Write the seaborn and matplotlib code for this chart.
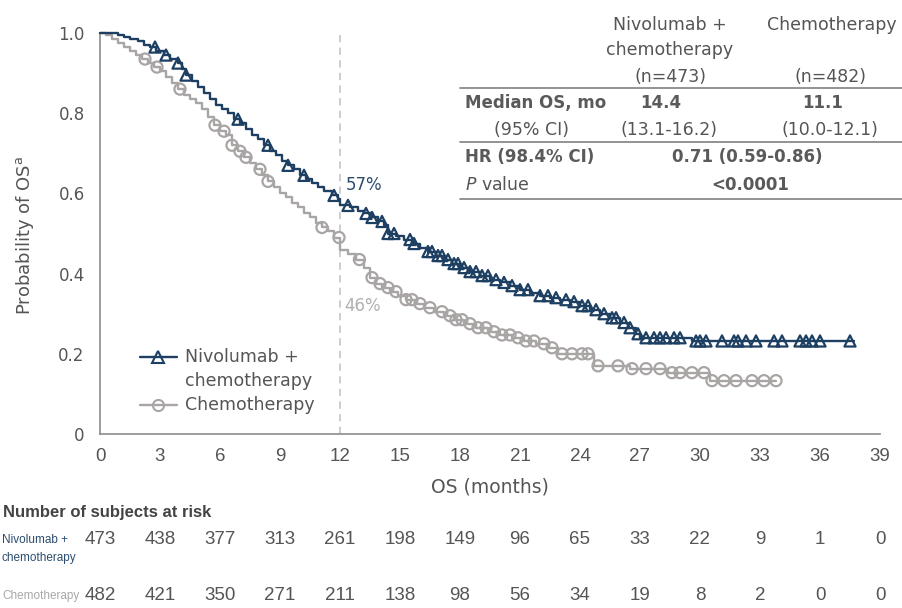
import numpy as np
import pandas as pd
import matplotlib
matplotlib.use("Agg")
import matplotlib.pyplot as plt
import matplotlib.transforms as mtransforms
import seaborn as sns

# ---- Kaplan-Meier estimates (time in months, survival probability after each step)
nivo_time = [0, 0.9, 1.2, 1.5, 1.9, 2.2, 2.5, 2.8, 3.2, 3.5, 3.9, 4.1, 4.3, 4.6, 4.9,
             5.2, 5.5, 5.8, 6.1, 6.4, 6.7, 7.0, 7.3, 7.6, 7.9, 8.2, 8.5, 8.8, 9.1, 9.4,
             9.7, 10.0, 10.3, 10.6, 10.9, 11.2, 11.6, 11.9, 12.0, 12.5, 12.9, 13.2, 13.6,
             13.9, 14.2, 14.4, 14.8, 15.2, 15.6, 16.0, 16.4, 16.8, 17.2, 17.6, 18.0, 18.5,
             19.0, 19.5, 20.0, 20.5, 21.0, 21.5, 22.0, 22.5, 23.0, 23.5, 24.0, 24.5, 25.0,
             25.5, 26.0, 26.4, 26.8, 27.0, 29.6, 37.7]
nivo_surv = [1.0, 0.995, 0.99, 0.985, 0.98, 0.97, 0.965, 0.955, 0.945, 0.935, 0.925, 0.91,
             0.895, 0.88, 0.865, 0.85, 0.835, 0.82, 0.81, 0.80, 0.785, 0.775, 0.76, 0.745,
             0.735, 0.72, 0.705, 0.695, 0.68, 0.67, 0.66, 0.645, 0.635, 0.625, 0.615, 0.605,
             0.595, 0.585, 0.57, 0.565, 0.555, 0.55, 0.54, 0.53, 0.52, 0.50, 0.495, 0.485,
             0.475, 0.465, 0.455, 0.445, 0.435, 0.425, 0.415, 0.405, 0.395, 0.385, 0.378,
             0.37, 0.36, 0.352, 0.345, 0.34, 0.335, 0.33, 0.32, 0.31, 0.30, 0.29, 0.278,
             0.265, 0.25, 0.24, 0.232, 0.232]
nivo_censored = [2.75, 3.3, 3.9, 4.3, 6.9, 8.4, 9.4, 10.2, 11.7, 12.4, 13.3, 13.6, 14.1, 14.4,
                 14.7, 15.5, 15.7, 16.4, 16.6, 16.9, 17.1, 17.4, 17.7, 17.9, 18.2, 18.5, 18.8,
                 19.1, 19.4, 19.8, 20.2, 20.6, 21.0, 21.4, 22.0, 22.4, 22.8, 23.3, 23.7, 24.1,
                 24.4, 24.8, 25.2, 25.6, 25.8, 26.2, 26.5, 26.9, 27.3, 27.7, 28.0, 28.3, 28.7,
                 29.0, 29.8, 30.0, 30.3, 31.1, 31.7, 31.9, 32.3, 32.8, 33.7, 34.1, 35.0, 35.3,
                 35.6, 36.0, 37.5]

chemo_time = [0, 0.3, 0.6, 0.9, 1.2, 1.5, 1.8, 2.1, 2.4, 2.7, 3.0, 3.3, 3.6, 3.9, 4.2, 4.5,
              4.8, 5.1, 5.4, 5.7, 6.0, 6.3, 6.6, 6.9, 7.2, 7.5, 7.8, 8.1, 8.4, 8.7, 9.0, 9.3,
              9.6, 9.9, 10.2, 10.5, 10.8, 11.1, 11.4, 11.7, 12.0, 12.4, 12.8, 13.2, 13.5, 13.8,
              14.1, 14.5, 14.9, 15.3, 15.8, 16.2, 16.7, 17.2, 17.7, 18.2, 18.8, 19.4, 20.0,
              20.6, 21.2, 21.8, 22.4, 22.9, 24.7, 26.5, 28.4, 30.5, 33.8]
chemo_surv = [1.0, 0.995, 0.985, 0.975, 0.965, 0.955, 0.945, 0.935, 0.925, 0.915, 0.905, 0.89,
              0.875, 0.86, 0.845, 0.835, 0.825, 0.81, 0.79, 0.77, 0.755, 0.745, 0.72, 0.705,
              0.69, 0.675, 0.66, 0.645, 0.63, 0.615, 0.60, 0.59, 0.575, 0.565, 0.55, 0.54,
              0.525, 0.515, 0.505, 0.49, 0.46, 0.45, 0.435, 0.415, 0.39, 0.375, 0.365, 0.355,
              0.345, 0.335, 0.325, 0.315, 0.305, 0.295, 0.285, 0.275, 0.265, 0.255, 0.247,
              0.24, 0.232, 0.225, 0.215, 0.20, 0.17, 0.163, 0.153, 0.133, 0.133]
chemo_censored = [2.25, 2.85, 4.0, 5.75, 6.2, 6.6, 7.0, 7.3, 8.0, 8.4, 11.1, 11.95, 12.97, 13.6,
                  14.0, 14.4, 14.8, 15.3, 15.6, 16.0, 16.5, 17.1, 17.5, 17.8, 18.1, 18.5, 18.9,
                  19.3, 19.7, 20.1, 20.5, 20.9, 21.3, 21.7, 22.2, 22.6, 23.1, 23.6, 24.1, 24.4,
                  24.9, 25.9, 26.6, 27.3, 28.0, 28.6, 29.0, 29.6, 30.2, 30.6, 31.2, 31.8, 32.6,
                  33.2, 33.8]

# ---- Numbers at risk
risk_months = [0, 3, 6, 9, 12, 15, 18, 21, 24, 27, 30, 33, 36, 39]
nivo_at_risk = [473, 438, 377, 313, 261, 198, 149, 96, 65, 33, 22, 9, 1, 0]
chemo_at_risk = [482, 421, 350, 271, 211, 138, 98, 56, 34, 19, 8, 2, 0, 0]

# ---- Landmark at 12 months
landmark_month = 12
nivo_12m = 0.57
chemo_12m = 0.46

NAVY = "#1d3f62"
NAVY_TEXT = "#2b4d6e"
GREY_CURVE = "#aaa5a5"
TEXT = "#555555"
AXIS = "#8c8c8c"
RULE = "#8a8a8a"

sns.set_theme(style="white")
plt.rcParams["font.family"] = ["DejaVu Sans"]
plt.rcParams["mathtext.default"] = "regular"
NARROW = ["Liberation Sans", "DejaVu Sans"]

W, H = 902, 608
fig = plt.figure(figsize=(W / 100, H / 100), dpi=100)
ax = fig.add_axes([100 / W, 174 / H, 780 / W, 401 / H])


def fx(px):
    return px / W


def fy(py):
    return 1 - py / H


def step_value(times, surv, t):
    idx = np.searchsorted(np.asarray(times), t, side="right") - 1
    return np.asarray(surv)[idx]


curves = pd.DataFrame({
    "month": nivo_time + chemo_time,
    "surv": nivo_surv + chemo_surv,
    "arm": ["nivo"] * len(nivo_time) + ["chemo"] * len(chemo_time),
})

ax.axvline(landmark_month, color="#c9c9c9", lw=1.3, ls=(0, (4, 3)), zorder=1)

for arm, color in (("chemo", GREY_CURVE), ("nivo", NAVY)):
    sub = curves[curves["arm"] == arm]
    sns.lineplot(data=sub, x="month", y="surv", drawstyle="steps-post",
                 estimator=None, sort=False, color=color, lw=1.7, ax=ax,
                 zorder=3, clip_on=False)

cens_chemo = pd.DataFrame({"month": chemo_censored,
                           "surv": step_value(chemo_time, chemo_surv, chemo_censored)})
cens_nivo = pd.DataFrame({"month": nivo_censored,
                          "surv": step_value(nivo_time, nivo_surv, nivo_censored)})
sns.scatterplot(data=cens_chemo, x="month", y="surv", marker="o", s=64,
                facecolors="none", edgecolors=GREY_CURVE, linewidth=1.6,
                ax=ax, zorder=4, clip_on=False)
sns.scatterplot(data=cens_nivo, x="month", y="surv", marker="^", s=64,
                facecolors="none", edgecolors=NAVY, linewidth=1.6,
                ax=ax, zorder=5, clip_on=False)

ax.set_xlim(0, 39)
ax.set_ylim(0, 1.0)
ax.set_xticks(risk_months)
ax.set_xticklabels([str(m) for m in risk_months], family=NARROW, fontsize=13.5, color=TEXT)
ax.set_yticks([0, 0.2, 0.4, 0.6, 0.8, 1.0])
ax.set_yticklabels(["0", "0.2", "0.4", "0.6", "0.8", "1.0"], fontsize=12, color=TEXT)
ax.tick_params(axis="both", length=6, width=1.1, color=AXIS, direction="out")
ax.tick_params(axis="y", pad=5)
ax.tick_params(axis="x", pad=4)
for side in ("top", "right"):
    ax.spines[side].set_visible(False)
for side in ("left", "bottom"):
    ax.spines[side].set_color(AXIS)
    ax.spines[side].set_linewidth(1.2)
ax.set_xlabel("")
ax.set_ylabel("")

fig.text(fx(25), fy(235), r"Probability of OS$^{a}$", rotation=90, ha="center",
         va="center", fontsize=13, color=TEXT)
fig.text(fx(490), fy(487), "OS (months)", ha="center", va="center", fontsize=13.5,
         color=TEXT)

# landmark labels
ax.text(landmark_month + 0.3, nivo_12m + 0.05, f"{round(nivo_12m * 100)}%", color=NAVY_TEXT,
        fontsize=12, ha="left", va="center")
ax.text(landmark_month + 0.2, chemo_12m - 0.14, f"{round(chemo_12m * 100)}%", color="#b0b0b0",
        fontsize=12, ha="left", va="center")

# legend
for ypx, col, mk in ((357, NAVY, "^"), (405, GREY_CURVE, "o")):
    fig.add_artist(plt.Line2D([fx(140), fx(177)], [fy(ypx), fy(ypx)], color=col, lw=1.7,
                              transform=fig.transFigure))
    fig.add_artist(plt.Line2D([fx(158)], [fy(ypx)], marker=mk, ms=8, mfc="none", mec=col,
                              mew=1.5, transform=fig.transFigure))
fig.text(fx(185), fy(357), "Nivolumab +", fontsize=12.5, color=TEXT, va="center")
fig.text(fx(185), fy(381), "chemotherapy", fontsize=12.5, color=TEXT, va="center")
fig.text(fx(185), fy(405), "Chemotherapy", fontsize=12.5, color=TEXT, va="center")

# summary table
tfs = 12.5
BOLD_TEXT = "#5a5a5a"
fig.text(fx(670), fy(25), "Nivolumab +", ha="center", va="center", fontsize=tfs, color=TEXT)
fig.text(fx(670), fy(50), "chemotherapy", ha="center", va="center", fontsize=tfs, color=TEXT)
fig.text(fx(670), fy(77), "(n=473)", ha="center", va="center", fontsize=tfs, color=TEXT)
fig.text(fx(832), fy(25), "Chemotherapy", ha="center", va="center", fontsize=tfs, color=TEXT)
fig.text(fx(831), fy(77), "(n=482)", ha="center", va="center", fontsize=tfs, color=TEXT)
fig.text(fx(465), fy(103), "Median OS, mo", ha="left", va="center", fontsize=12,
         color=BOLD_TEXT, fontweight="bold")
fig.text(fx(661), fy(103), "14.4", ha="center", va="center", fontsize=12, color=BOLD_TEXT,
         fontweight="bold")
fig.text(fx(823), fy(103), "11.1", ha="center", va="center", fontsize=12, color=BOLD_TEXT,
         fontweight="bold")
fig.text(fx(532), fy(130), "(95% CI)", ha="center", va="center", fontsize=tfs, color=TEXT)
fig.text(fx(669), fy(130), "(13.1-16.2)", ha="center", va="center", fontsize=tfs, color=TEXT)
fig.text(fx(830), fy(130), "(10.0-12.1)", ha="center", va="center", fontsize=tfs, color=TEXT)
fig.text(fx(465), fy(157), "HR (98.4% CI)", ha="left", va="center", fontsize=12,
         color=BOLD_TEXT, fontweight="bold")
fig.text(fx(747), fy(157), "0.71 (0.59-0.86)", ha="center", va="center", fontsize=12,
         color=BOLD_TEXT, fontweight="bold")
fig.text(fx(465), fy(185), r"$\mathit{P}$ value", ha="left", va="center", fontsize=tfs,
         color=TEXT)
fig.text(fx(750), fy(185), "<0.0001", ha="center", va="center", fontsize=12, color=BOLD_TEXT,
         fontweight="bold")
for ypx in (88, 142, 199):
    fig.add_artist(plt.Line2D([fx(460), fx(902)], [fy(ypx), fy(ypx)], color=RULE, lw=1.3,
                              transform=fig.transFigure))

# numbers at risk
fig.text(fx(3), fy(512), "Number of subjects at risk", ha="left", va="center",
         fontsize=12, color="#444444", fontweight="bold", family=NARROW)
fig.text(fx(2), fy(540), "Nivolumab +", ha="left", va="center", fontsize=8.5,
         color=NAVY_TEXT, family=NARROW)
fig.text(fx(2), fy(558), "chemotherapy", ha="left", va="center", fontsize=8.5,
         color=NAVY_TEXT, family=NARROW)
fig.text(fx(2), fy(596), "Chemotherapy", ha="left", va="center", fontsize=8.5,
         color="#a8a8a8", family=NARROW)
blend = mtransforms.blended_transform_factory(ax.transData, fig.transFigure)
for m, n_nivo, n_chemo in zip(risk_months, nivo_at_risk, chemo_at_risk):
    ax.text(m, fy(540), str(n_nivo), transform=blend, ha="center", va="center",
            fontsize=13.5, color=TEXT, family=NARROW, clip_on=False)
    ax.text(m, fy(596), str(n_chemo), transform=blend, ha="center", va="center",
            fontsize=13.5, color=TEXT, family=NARROW, clip_on=False)

fig.savefig("out.png", dpi=100, facecolor="white")
